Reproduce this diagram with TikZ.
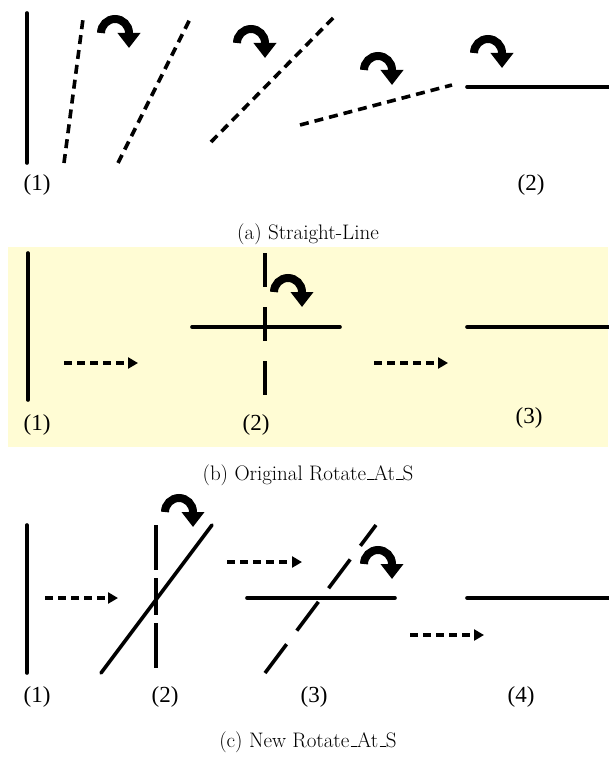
\documentclass[tikz,border=0pt]{standalone}
\usepackage{fontspec}
\newfontfamily\labfont{Liberation Serif}
\usetikzlibrary{arrows.meta}
\definecolor{panelyellow}{RGB}{255,252,212}
\newcommand\usc{\leavevmode\kern.06em\vbox{\hrule width .3em height .8pt}}
\tikzset{
  x=1pt, y=-1pt,
  solidline/.style={line width=3.6pt, line cap=round},
  dashline/.style={line width=3.6pt, dash pattern=on 9pt off 6pt},
  dasharrow/.style={line width=3.4pt, dash pattern=on 8pt off 5pt, -{Triangle[length=10pt,width=11pt]}},
  lab/.style={font=\labfont\fontsize{23}{25}\selectfont, inner sep=0pt},
  captxt/.style={font=\fontsize{21}{24}\selectfont, inner sep=0pt},
  rotarr/.pic={\draw[line width=8pt, -{Triangle[length=15pt,width=22pt]}] (-14,0) arc[start angle=180,end angle=360,radius=14] -- ++(0,15);}
}
\begin{document}
\begin{tikzpicture}
\useasboundingbox (0,0) rectangle (608,757);
% ---------- panel (a) ----------
\coordinate (a1t) at (27,13);   \coordinate (a1b) at (27,163);
\coordinate (d1b) at (64,163);  \coordinate (d1t) at (83,19);
\coordinate (d2b) at (118,163); \coordinate (d2t) at (191,17);
\coordinate (d3b) at (211,142); \coordinate (d3t) at (337,14);
\coordinate (d4b) at (300,125); \coordinate (d4t) at (452,85);
\coordinate (h1l) at (467,87);  \coordinate (h1r) at (612,87);
\draw[solidline] (a1t) -- (a1b);
\draw[dashline] (d1b) -- (d1t);
\draw[dashline] (d2b) -- (d2t);
\draw[dashline] (d3b) -- (d3t);
\draw[dashline] (d4b) -- (d4t);
\draw[solidline] (h1l) -- (h1r);
\pic at (115,33) {rotarr};
\pic at (251,43) {rotarr};
\pic at (378,70) {rotarr};
\pic at (488,53) {rotarr};
\node[lab] (la1) at (37,185) {(1)};
\node[lab] (la2) at (531,185) {(2)};
\node[captxt] (capa) at (308,234) {(a) Straight-Line};
% ---------- panel (b) ----------
\fill[panelyellow] (8,247) rectangle (608,447);
\coordinate (b1t) at (28,253);  \coordinate (b1b) at (28,400);
\coordinate (ba1s) at (64,363); \coordinate (ba1e) at (138,363);
\coordinate (bvt) at (265,253); \coordinate (bvb) at (265,396);
\coordinate (bh2l) at (192,327); \coordinate (bh2r) at (340,327);
\coordinate (ba2s) at (374,363); \coordinate (ba2e) at (448,363);
\coordinate (bh3l) at (467,327); \coordinate (bh3r) at (612,327);
\draw[solidline] (b1t) -- (b1b);
\draw[dasharrow] (ba1s) -- (ba1e);
\draw[line width=3.6pt, dash pattern=on 34pt off 20pt] (bvt) -- (bvb);
\draw[solidline] (bh2l) -- (bh2r);
\pic at (288,292) {rotarr};
\draw[dasharrow] (ba2s) -- (ba2e);
\draw[solidline] (bh3l) -- (bh3r);
\node[lab] (lb1) at (37,425) {(1)};
\node[lab] (lb2) at (256,425) {(2)};
\node[lab] (lb3) at (529,418) {(3)};
\node[captxt] (capb) at (308,475) {(b) Original Rotate\usc At\usc S};
% ---------- panel (c) ----------
\coordinate (c1t) at (27,525);  \coordinate (c1b) at (27,673);
\coordinate (ca1s) at (45,598); \coordinate (ca1e) at (118,598);
\coordinate (cvt) at (156,525); \coordinate (cvb) at (156,668);
\coordinate (cdb) at (101,673); \coordinate (cdt) at (212,525);
\coordinate (ca2s) at (227,562); \coordinate (ca2e) at (302,562);
\coordinate (ch3l) at (247,598); \coordinate (ch3r) at (395,598);
\coordinate (cdd1) at (265,673); \coordinate (cdd2) at (376,525);
\coordinate (ca3s) at (410,635); \coordinate (ca3e) at (484,635);
\coordinate (ch4l) at (467,598); \coordinate (ch4r) at (612,598);
\draw[solidline] (c1t) -- (c1b);
\draw[dasharrow] (ca1s) -- (ca1e);
\draw[line width=3.6pt, dash pattern=on 45pt off 8pt on 37pt off 8pt] (cvt) -- (cvb);
\draw[solidline] (cdb) -- (cdt);
\pic at (179,512) {rotarr};
\draw[dasharrow] (ca2s) -- (ca2e);
\draw[solidline] (ch3l) -- (ch3r);
\draw[line width=3.6pt, dash pattern=on 36pt off 17pt] (cdd1) -- (cdd2);
\pic at (378,564) {rotarr};
\draw[dasharrow] (ca3s) -- (ca3e);
\draw[solidline] (ch4l) -- (ch4r);
\node[lab] (lc1) at (37,697) {(1)};
\node[lab] (lc2) at (165,697) {(2)};
\node[lab] (lc3) at (314,697) {(3)};
\node[lab] (lc4) at (521,697) {(4)};
\node[captxt] (capc) at (308,742) {(c) New Rotate\usc At\usc S};
\end{tikzpicture}
\end{document}
